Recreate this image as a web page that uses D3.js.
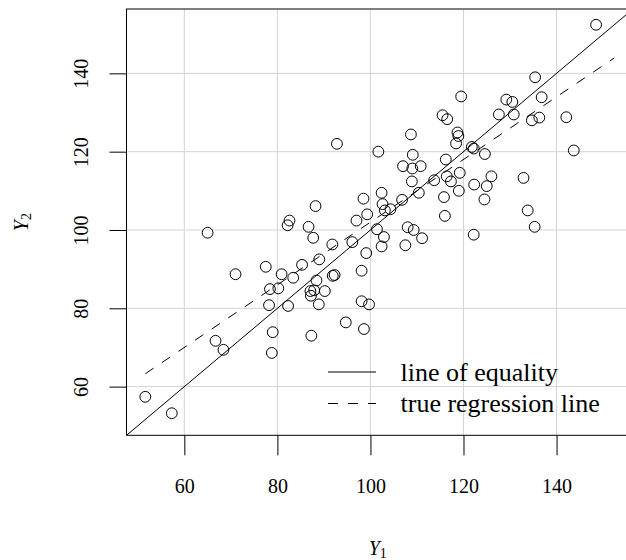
<!DOCTYPE html>
<html>
<head>
<meta charset="utf-8">
<script src="https://cdn.jsdelivr.net/npm/d3@7"></script>
<style>
  html, body { margin: 0; padding: 0; background: #ffffff; }
  svg { display: block; overflow: hidden; }
  svg text { fill: #000; }
</style>
</head>
<body>
<svg id="chart" width="626" height="560"></svg>
<script>
// Paired measurements: first and second reading for each subject
const y1Values = [
  148.5, 135.4, 119.5, 129.2, 130.5, 136.8, 127.6, 130.8, 142.1, 134.7,
  136.3, 115.5, 116.5, 108.7, 118.7, 118.9, 118.4, 121.8, 122.2, 124.6,
  143.7, 101.7, 92.8, 109.1, 107.0, 109.0, 110.8, 116.2, 108.9, 113.7,
  116.4, 117.3, 119.2, 119.0, 122.3, 126.0, 125.0, 124.5, 132.9, 133.8,
  110.4, 106.8, 102.4, 98.5, 102.6, 103.1, 104.3, 99.3, 97.0, 88.2,
  82.6, 82.2, 86.7, 87.7, 91.8, 96.1, 101.4, 102.9, 102.4, 108.0,
  109.3, 111.1, 107.5, 116.0, 122.2, 135.3, 99.1, 65.0, 71.0, 77.5,
  80.9, 78.4, 80.2, 78.2, 82.3, 83.4, 85.3, 89.0, 88.4, 87.1,
  87.9, 87.2, 90.2, 88.9, 91.9, 92.3, 98.1, 98.1, 99.7, 94.7,
  98.6, 79.0, 87.3, 78.8, 66.7, 68.4, 51.6, 57.3, 115.8
];
const y2Values = [
  152.4, 139.0, 134.1, 133.3, 132.7, 133.9, 129.5, 129.5, 128.8, 128.0,
  128.7, 129.3, 128.3, 124.4, 124.9, 124.0, 122.1, 121.2, 120.8, 119.4,
  120.3, 120.0, 122.0, 119.2, 116.3, 115.7, 116.3, 118.0, 112.4, 112.7,
  113.7, 112.4, 114.6, 110.0, 111.6, 113.7, 111.2, 107.8, 113.3, 105.0,
  109.5, 107.7, 109.5, 108.0, 106.6, 105.0, 105.3, 104.0, 102.4, 106.1,
  102.4, 101.2, 100.8, 98.0, 96.3, 96.9, 100.2, 98.2, 95.8, 100.7,
  100.0, 97.9, 96.1, 103.6, 98.8, 100.8, 94.1, 99.3, 88.7, 90.6,
  88.7, 84.9, 85.1, 80.8, 80.6, 87.8, 91.1, 92.5, 87.1, 84.4,
  84.6, 83.2, 84.4, 81.0, 88.3, 88.5, 89.6, 81.8, 81.0, 76.4,
  74.7, 73.9, 73.0, 68.6, 71.7, 69.4, 57.4, 53.2, 108.4
];

// Tick positions shared by both axes
const xTicks = [60, 80, 100, 120, 140];
const yTicks = [60, 80, 100, 120, 140];

// True regression line of Y2 on Y1: Y2 = 22 + 0.8 * Y1
const regIntercept = 22;
const regSlope = 0.8;

const legendLabels = ["line of equality", "true regression line"];
const legendDash = [null, "10,10"];

const serif = "Liberation Serif";

const svg = d3.select("#chart");

// Plot region (the right edge of the frame runs just past the window)
const plot = { left: 126.5, top: 9, right: 633, bottom: 435.3 };

// Common limits for both axes: combined range plus 4% on each side
const allVals = y1Values.concat(y2Values);
const lo = d3.min(allVals), hi = d3.max(allVals);
const pad = (hi - lo) * 0.04;
const lim = [lo - pad, hi + pad];

const x = d3.scaleLinear().domain(lim).range([plot.left, plot.right]);
const y = d3.scaleLinear().domain(lim).range([plot.bottom, plot.top]);

svg.append("defs").append("clipPath").attr("id", "plotClip")
  .append("rect")
  .attr("x", plot.left).attr("y", plot.top)
  .attr("width", plot.right - plot.left).attr("height", plot.bottom - plot.top);

// Grid
const grid = svg.append("g").attr("stroke", "#d4d4d4").attr("stroke-width", 1);
grid.selectAll("line.v").data(xTicks).join("line")
  .attr("class", "v")
  .attr("x1", d => x(d)).attr("x2", d => x(d))
  .attr("y1", plot.top).attr("y2", plot.bottom);
grid.selectAll("line.h").data(yTicks).join("line")
  .attr("class", "h")
  .attr("x1", plot.left).attr("x2", plot.right)
  .attr("y1", d => y(d)).attr("y2", d => y(d));

const inner = svg.append("g").attr("clip-path", "url(#plotClip)");

// Line of equality across the whole panel
inner.append("line")
  .attr("x1", x(lim[0])).attr("y1", y(lim[0]))
  .attr("x2", x(lim[1])).attr("y2", y(lim[1]))
  .attr("stroke", "#000").attr("stroke-width", 1);

// True regression line over the data range
inner.append("line")
  .attr("x1", x(lo)).attr("y1", y(regIntercept + regSlope * lo))
  .attr("x2", x(hi)).attr("y2", y(regIntercept + regSlope * hi))
  .attr("stroke", "#000").attr("stroke-width", 1)
  .attr("stroke-dasharray", "10,10");

// Points
inner.selectAll("circle").data(d3.range(y1Values.length)).join("circle")
  .attr("cx", i => x(y1Values[i]))
  .attr("cy", i => y(y2Values[i]))
  .attr("r", 5.4)
  .attr("fill", "none")
  .attr("stroke", "#000")
  .attr("stroke-width", 1);

// Frame
svg.append("rect")
  .attr("x", plot.left).attr("y", plot.top)
  .attr("width", plot.right - plot.left).attr("height", plot.bottom - plot.top)
  .attr("fill", "none").attr("stroke", "#000").attr("stroke-width", 1);

// X axis
const xAxis = d3.axisBottom(x).tickValues(xTicks).tickSize(20).tickPadding(20)
  .tickFormat(d3.format("d"));
const gx = svg.append("g").attr("transform", `translate(0,${plot.bottom})`).call(xAxis)
  .attr("font-family", serif).attr("font-size", 20);
gx.select(".domain").remove();
gx.selectAll(".tick line").attr("stroke", "#000");
gx.selectAll(".tick text")
  .attr("font-family", serif)
  .attr("dy", null)
  .attr("y", 58);

// Y axis
const yAxis = d3.axisLeft(y).tickValues(yTicks).tickSize(17).tickPadding(0)
  .tickFormat(d3.format("d"));
const gy = svg.append("g").attr("transform", `translate(${plot.left},0)`).call(yAxis)
  .attr("font-family", serif).attr("font-size", 20);
gy.select(".domain").remove();
gy.selectAll(".tick line").attr("stroke", "#000");
gy.selectAll(".tick text")
  .attr("font-family", serif)
  .attr("x", null).attr("dy", null)
  .attr("text-anchor", "middle")
  .attr("transform", `translate(${87.5 - plot.left},0) rotate(-90)`);

// Axis titles
const xTitle = svg.append("text")
  .attr("x", (plot.left + plot.right) / 2 - 2)
  .attr("y", 555)
  .attr("text-anchor", "middle")
  .attr("font-family", serif)
  .attr("font-size", 20);
xTitle.append("tspan").attr("font-style", "italic").text("Y");
xTitle.append("tspan").attr("font-size", 14).attr("dy", 2.5).text("1");

const yTitle = svg.append("text")
  .attr("transform", `translate(28,${(plot.top + plot.bottom) / 2}) rotate(-90)`)
  .attr("text-anchor", "middle")
  .attr("font-family", serif)
  .attr("font-size", 20);
yTitle.append("tspan").attr("font-style", "italic").text("Y");
yTitle.append("tspan").attr("font-size", 14).attr("dy", 2.5).text("2");

// Legend
const legend = svg.append("g");
const legendRows = legend.selectAll("g").data(legendLabels).join("g")
  .attr("transform", (d, i) => `translate(0,${372 + i * 31.5})`);
legendRows.append("line")
  .attr("x1", 328).attr("x2", 376)
  .attr("y1", 0).attr("y2", 0)
  .attr("stroke", "#000").attr("stroke-width", 1)
  .attr("stroke-dasharray", (d, i) => legendDash[i]);
legendRows.append("text")
  .attr("x", 400.5).attr("y", 8.6)
  .attr("font-family", serif)
  .attr("font-size", 26)
  .text(d => d);
</script>
</body>
</html>
